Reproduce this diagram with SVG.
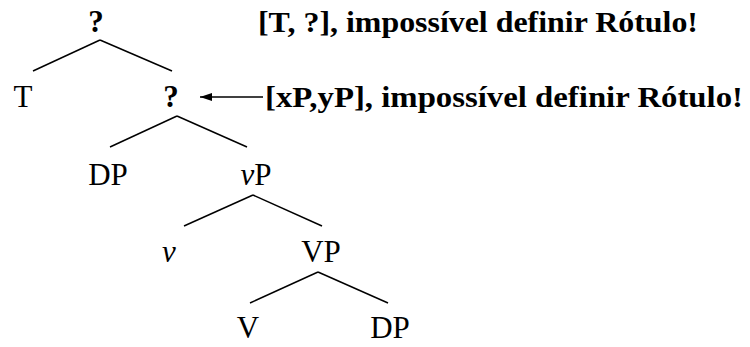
<svg xmlns="http://www.w3.org/2000/svg" width="750" height="347" viewBox="0 0 750 347">
  <defs>
    <marker id="head" markerWidth="12" markerHeight="10" refX="12" refY="5" orient="auto" markerUnits="userSpaceOnUse">
      <path d="M0,1 L12,5 L0,9 Z" fill="#000"/>
    </marker>
  </defs>
  <style>
    .lbl { font-family: "Liberation Serif", "Times New Roman", serif; font-size: 31px; fill: #000; }
    .b { font-weight: bold; }
    .i { font-style: italic; }
    .note { font-family: "Liberation Serif", "Times New Roman", serif; font-size: 30px; font-weight: bold; fill: #000; }
    .edge { stroke: #000; stroke-width: 1.5; fill: none; }
  </style>
  <rect width="750" height="347" fill="#fff"/>

  <g id="connectors">
    <line class="edge" x1="100" y1="40" x2="33" y2="71"/>
    <line class="edge" x1="100" y1="40" x2="172" y2="71"/>
    <line class="edge" x1="177" y1="116" x2="110" y2="147"/>
    <line class="edge" x1="177" y1="116" x2="247" y2="147"/>
    <line class="edge" x1="253" y1="195" x2="184" y2="226"/>
    <line class="edge" x1="253" y1="195" x2="322" y2="226"/>
    <line class="edge" x1="318" y1="272" x2="250" y2="303"/>
    <line class="edge" x1="318" y1="272" x2="388" y2="303"/>
    <line class="edge" x1="263" y1="97" x2="200" y2="97" stroke-width="2" marker-end="url(#head)"/>
  </g>

  <g id="root"><text class="lbl b" x="96" y="32" text-anchor="middle">?</text></g>
  <g id="note-top"><text class="note" x="258" y="32" textLength="440" lengthAdjust="spacingAndGlyphs">[T, ?], impossível definir Rótulo!</text></g>
  <g id="T"><text class="lbl" x="23" y="107" text-anchor="middle">T</text></g>
  <g id="mid"><text class="lbl b" x="171" y="107" text-anchor="middle">?</text></g>
  <g id="note-mid"><text class="note" x="265" y="107" textLength="478" lengthAdjust="spacingAndGlyphs">[xP,yP], impossível definir Rótulo!</text></g>
  <g id="DP1"><text class="lbl" x="108" y="185" text-anchor="middle">DP</text></g>
  <g id="vP"><text class="lbl" x="256" y="185" text-anchor="middle"><tspan class="i">v</tspan>P</text></g>
  <g id="v"><text class="lbl i" x="169" y="262" text-anchor="middle">v</text></g>
  <g id="VP"><text class="lbl" x="321" y="262" text-anchor="middle">VP</text></g>
  <g id="V"><text class="lbl" x="248" y="338" text-anchor="middle">V</text></g>
  <g id="DP2"><text class="lbl" x="390" y="338" text-anchor="middle">DP</text></g>
</svg>
